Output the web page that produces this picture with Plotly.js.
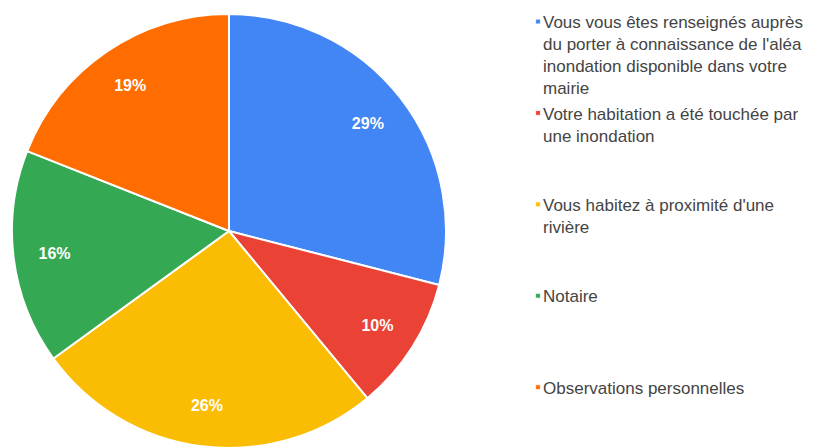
<!DOCTYPE html>
<html>
<head>
<meta charset="utf-8">
<script src="https://cdn.plot.ly/plotly-3.0.1.min.js"></script>
<style>
  html, body { margin: 0; padding: 0; background: #fff; }
  #chart { width: 825px; height: 448px; }
  .legendpoints .legendpie { transform: translate(35px, 0px) scale(0.4); }
</style>
</head>
<body>
<div id="chart"></div>
<script>
const labels = [
  "Vous vous êtes renseignés auprès<br>du porter à connaissance de l'aléa<br>inondation disponible dans votre<br>mairie",
  "Votre habitation a été touchée par<br>une inondation<br> <br> ",
  "Vous habitez à proximité d'une<br>rivière<br> <br> ",
  "Notaire<br> <br> <br> ",
  "Observations personnelles"
];
const values = [29, 10, 26, 16, 19];
const colors = ["#4285F4", "#EA4335", "#FBBC04", "#34A853", "#FF6D01"];

const domain = {x: [0.0145, 0.5406], y: [0, 0.9688]};

const basePie = {
  type: "pie",
  labels: labels,
  values: values,
  sort: false,
  direction: "clockwise",
  rotation: 0,
  domain: domain,
  marker: {colors: colors, line: {color: "#ffffff", width: 2}},
  textinfo: "none",
  hoverinfo: "label+percent",
  showlegend: true
};

const labelRing = {
  type: "pie",
  labels: labels,
  values: values,
  sort: false,
  direction: "clockwise",
  rotation: 0,
  hole: 0.62,
  domain: domain,
  marker: {colors: colors.map(() => "rgba(0,0,0,0)"), line: {width: 0}},
  textinfo: "percent",
  texttemplate: "%{percent:.0%}",
  textposition: "inside",
  insidetextorientation: "horizontal",
  textfont: {family: "Arial, 'Liberation Sans', sans-serif", size: 16, color: "#ffffff", weight: "bold"},
  hoverinfo: "skip",
  showlegend: false
};

const layout = {
  width: 825,
  height: 448,
  margin: {l: 0, r: 0, t: 0, b: 0},
  paper_bgcolor: "#ffffff",
  plot_bgcolor: "#ffffff",
  showlegend: true,
  legend: {
    x: 503 / 825,
    xanchor: "left",
    y: 1 - 4 / 448,
    yanchor: "top",
    valign: "top",
    traceorder: "normal",
    font: {family: "Arial, 'Liberation Sans', sans-serif", size: 17, color: "#444444"},
    bgcolor: "rgba(0,0,0,0)"
  }
};

Plotly.newPlot("chart", [basePie, labelRing], layout, {displayModeBar: false, staticPlot: true});
</script>
</body>
</html>
